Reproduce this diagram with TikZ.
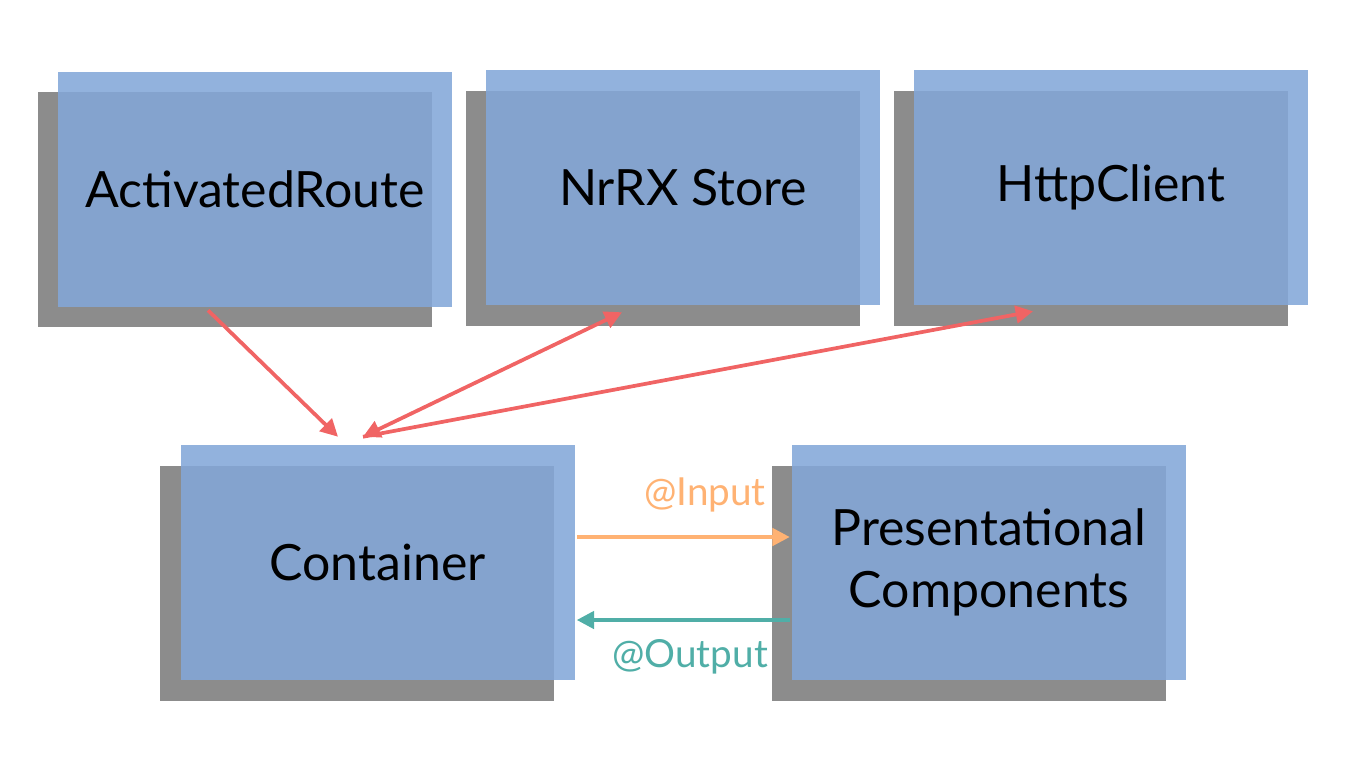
\documentclass[tikz,border=0pt]{standalone}
\usepackage{fontspec}
\setmainfont{Lato}
\usetikzlibrary{arrows.meta,calc}
\definecolor{boxblue}{RGB}{131,167,216}
\definecolor{shadowgray}{RGB}{140,140,140}
\definecolor{linkred}{RGB}{240,100,100}
\definecolor{inorange}{RGB}{255,178,115}
\definecolor{outteal}{RGB}{80,174,167}
\tikzset{
  tip/.tip={Triangle[length=13pt,width=13pt]},
  shadowbox/.style={fill=shadowgray, minimum width=295.5pt, minimum height=176.25pt, inner sep=0pt},
  bluebox/.style={fill=boxblue, fill opacity=0.88, text opacity=1, minimum width=295.5pt, minimum height=176.25pt, inner sep=0pt, font=\fontsize{37.5}{46.5}\selectfont, align=center},
  redlink/.style={draw=linkred, line width=2.8pt, -tip},
  redboth/.style={draw=linkred, line width=2.8pt, tip-tip},
  inlink/.style={draw=inorange, line width=2.8pt, -tip},
  outlink/.style={draw=outteal, line width=2.8pt, -tip},
  lbl/.style={font=\fontsize{29}{34}\selectfont, inner sep=0pt}
}
\begin{document}
\begin{tikzpicture}[x=0.75pt,y=-0.75pt]
\useasboundingbox (0,0) rectangle (1367,769);
% shadows
\node[shadowbox] (ars) at (235,209.5) {};
\node[shadowbox] (nss) at (663,208) {};
\node[shadowbox] (hcs) at (1091,208) {};
\node[shadowbox] (cts) at (357,583) {};
\node[shadowbox] (pcs) at (969,583) {};
% boxes
\node[bluebox] (ar) at (255,189.5) {ActivatedRoute};
\node[bluebox] (ns) at (683,187.5) {NrRX Store};
\node[bluebox] (hc) at (1111,187.5) {HttpClient};
\node[bluebox] (ct) at (377.5,562.5) {Container};
\node[bluebox] (pc) at (989,562.5) {Presentational\\Components};
% connectors
\coordinate (ctA) at ($(ct.north)+(-39.5,-8)$);
\coordinate (ctB) at ($(ct.north)+(-14.5,-8)$);
\draw[redlink] ($(ar.south)+(-47,3)$) -- (ctA);
\draw[redboth] (ctB) -- ($(ns.south)+(-61,7)$);
\draw[redlink] (ctB) -- ($(hc.south)+(-78,6)$);
\draw[inlink] ($(ct.east)+(2,-25.5)$) -- ($(pc.west)+(-2,-25.5)$);
\draw[outlink] ($(pc.west)+(-2,57.5)$) -- ($(ct.east)+(2,57.5)$);
% labels
\node[lbl, text=inorange, anchor=east] (inl) at (766,495) {@Input};
\node[lbl, text=outteal, anchor=east] (outl) at (768,657) {@Output};
\end{tikzpicture}
\end{document}
